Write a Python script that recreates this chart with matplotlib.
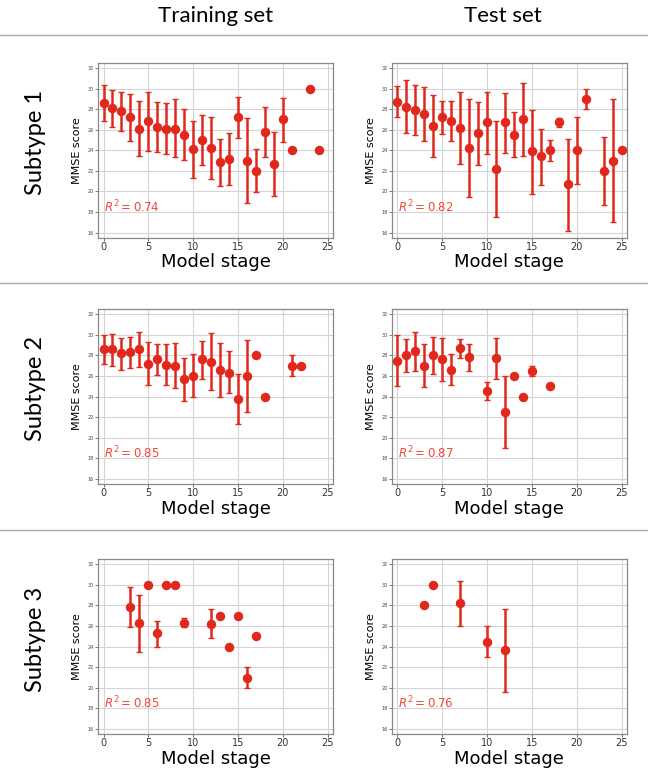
import matplotlib
matplotlib.use("Agg")
import matplotlib.pyplot as plt
from matplotlib.lines import Line2D

# ---- data ----
# Subtype 1, training set
s1_train_x = [0, 1, 2, 3, 4, 5, 6, 7, 8, 9, 10, 11, 12, 13, 14, 15, 16, 17, 18, 19, 20, 21, 23, 24]
s1_train_y = [28.6, 28.1, 27.8, 27.2, 26.1, 26.8, 26.3, 26.1, 26.1, 25.5, 24.1, 25.0, 24.2, 22.9, 23.2, 27.2, 23.0, 22.0, 25.8, 22.7, 27.0, 24.0, 30.0, 24.0]
s1_train_hi = [30.3, 29.9, 29.7, 29.5, 28.8, 29.7, 28.7, 28.6, 29.0, 28.0, 26.8, 27.4, 27.2, 25.1, 25.7, 29.2, 27.1, 24.1, 28.2, 25.8, 29.1, 24.0, 30.0, 24.0]
s1_train_lo = [26.8, 26.3, 25.9, 24.9, 23.4, 23.9, 23.8, 23.6, 23.3, 23.1, 21.3, 22.6, 21.2, 20.5, 20.6, 25.2, 18.9, 19.9, 23.3, 19.6, 24.8, 24.0, 30.0, 24.0]

# Subtype 1, test set
s1_test_x = [0, 1, 2, 3, 4, 5, 6, 7, 8, 9, 10, 11, 12, 13, 14, 15, 16, 17, 18, 19, 20, 21, 23, 24, 25]
s1_test_y = [28.7, 28.2, 27.9, 27.5, 26.4, 27.2, 26.8, 26.2, 24.2, 25.7, 26.7, 22.2, 26.7, 25.5, 27.0, 23.9, 23.4, 24.0, 26.7, 20.7, 24.0, 29.0, 22.0, 23.0, 24.0]
s1_test_hi = [30.2, 30.8, 30.3, 30.1, 29.4, 28.8, 28.8, 29.7, 29.0, 28.7, 29.7, 26.8, 29.6, 27.7, 30.5, 27.9, 26.1, 25.0, 27.1, 25.1, 27.2, 30.0, 25.3, 29.0, 24.0]
s1_test_lo = [27.2, 25.7, 25.5, 24.9, 23.3, 25.6, 24.9, 22.7, 19.5, 22.6, 23.6, 17.5, 23.7, 23.3, 23.4, 19.8, 20.6, 23.0, 26.3, 16.2, 20.7, 28.0, 18.7, 17.0, 24.0]

# Subtype 2, training set
s2_train_x = [0, 1, 2, 3, 4, 5, 6, 7, 8, 9, 10, 11, 12, 13, 14, 15, 16, 17, 18, 21, 22]
s2_train_y = [28.6, 28.6, 28.2, 28.3, 28.6, 27.2, 27.6, 27.1, 27.0, 25.7, 26.0, 27.6, 27.4, 26.6, 26.3, 23.8, 26.0, 28.0, 24.0, 27.0, 27.0]
s2_train_hi = [30.0, 30.1, 29.7, 29.8, 30.3, 29.3, 29.1, 29.1, 29.2, 27.7, 28.1, 29.4, 30.2, 29.2, 28.4, 26.2, 29.5, 28.0, 24.0, 28.0, 27.0]
s2_train_lo = [27.2, 27.0, 26.6, 26.8, 26.9, 25.1, 26.1, 25.1, 24.8, 23.6, 24.0, 25.7, 24.6, 24.0, 24.3, 21.3, 22.5, 28.0, 24.0, 26.0, 27.0]

# Subtype 2, test set
s2_test_x = [0, 1, 2, 3, 4, 5, 6, 7, 8, 10, 11, 12, 13, 14, 15, 17]
s2_test_y = [27.5, 28.0, 28.4, 27.0, 28.0, 27.6, 26.6, 28.7, 27.8, 24.5, 27.7, 22.5, 26.0, 24.0, 26.5, 25.0]
s2_test_hi = [30.0, 29.6, 30.3, 29.1, 29.8, 29.7, 28.1, 29.6, 29.1, 25.4, 29.7, 26.0, 26.0, 24.0, 27.0, 25.0]
s2_test_lo = [25.0, 26.4, 26.5, 24.9, 26.2, 25.5, 25.1, 27.7, 26.5, 23.7, 25.7, 19.0, 26.0, 24.0, 26.0, 25.0]

# Subtype 3, training set
s3_train_x = [3, 4, 5, 6, 7, 8, 9, 12, 13, 14, 15, 16, 17]
s3_train_y = [27.9, 26.3, 30.0, 25.3, 30.0, 30.0, 26.3, 26.2, 27.0, 24.0, 27.0, 21.0, 25.0]
s3_train_hi = [29.8, 29.0, 30.0, 26.5, 30.0, 30.0, 26.8, 27.7, 27.0, 24.0, 27.0, 22.0, 25.0]
s3_train_lo = [25.9, 23.5, 30.0, 24.0, 30.0, 30.0, 25.9, 24.8, 27.0, 24.0, 27.0, 20.0, 25.0]

# Subtype 3, test set
s3_test_x = [3, 4, 7, 10, 12]
s3_test_y = [28.0, 30.0, 28.2, 24.5, 23.7]
s3_test_hi = [28.0, 30.0, 30.4, 26.0, 27.7]
s3_test_lo = [28.0, 30.0, 26.0, 23.0, 19.6]

r2_values = [["0.74", "0.82"], ["0.85", "0.87"], ["0.85", "0.76"]]
col_titles = ["Training set", "Test set"]
row_titles = ["Subtype 1", "Subtype 2", "Subtype 3"]

panels = [
    [(s1_train_x, s1_train_y, s1_train_lo, s1_train_hi), (s1_test_x, s1_test_y, s1_test_lo, s1_test_hi)],
    [(s2_train_x, s2_train_y, s2_train_lo, s2_train_hi), (s2_test_x, s2_test_y, s2_test_lo, s2_test_hi)],
    [(s3_train_x, s3_train_y, s3_train_lo, s3_train_hi), (s3_test_x, s3_test_y, s3_test_lo, s3_test_hi)],
]

red = "#e0281c"
fig = plt.figure(figsize=(6.5, 7.72), dpi=100)

lefts = [0.151, 0.603]
bottoms = [0.692, 0.373, 0.049]
w, h = 0.3615, 0.2267

for i in range(3):
    for j in range(2):
        x, y, lo, hi = panels[i][j]
        yerr = [[m - l for m, l in zip(y, lo)], [u - m for m, u in zip(y, hi)]]
        ax = fig.add_axes([lefts[j], bottoms[i], w, h])
        ax.errorbar(x, y, yerr=yerr, fmt="o", color=red, ms=5.8, elinewidth=1.8,
                    capsize=2.5, capthick=1.0, zorder=3)
        ax.set_xlim(-0.6, 25.6)
        ax.set_ylim(15.5, 32.5)
        ax.set_xticks([0, 5, 10, 15, 20, 25])
        ax.set_yticks(range(16, 33, 2))
        ax.grid(True, color="#d4d4d4", linewidth=0.8)
        ax.set_axisbelow(True)
        for sp in ax.spines.values():
            sp.set_color("#888888")
            sp.set_linewidth(0.9)
        ax.tick_params(axis="y", labelsize=3.5, length=2, width=0.5, pad=1, colors="#444444")
        ax.tick_params(axis="x", labelsize=7, length=2, width=0.5, pad=1, colors="#333333")
        ax.set_ylabel("MMSE score", fontsize=8, labelpad=4)
        ax.set_xlabel("Model stage", fontsize=13, labelpad=1)
        ax.text(0.1, 18.5, "$R^2 = $" + r2_values[i][j], color="#f0473a", fontsize=8.5,
                va="center", ha="left")

# column and row titles
for j, t in enumerate(col_titles):
    fig.text(lefts[j] + w / 2 + (0.0 if j == 0 else -0.01), 1 - 16 / 772, t,
             fontsize=16, family="Lato", ha="center", va="center")
for i, t in enumerate(row_titles):
    fig.text(35 / 650, bottoms[i] + h / 2 + 0.01, t, fontsize=17, family="Lato",
             rotation=90, ha="center", va="center")

# separator lines
for yy in [35, 283, 530]:
    fig.add_artist(Line2D([0.0, 0.995], [1 - yy / 772, 1 - yy / 772],
                          transform=fig.transFigure, color="#aaaaaa", linewidth=1.0))

fig.savefig("out.png", dpi=100)
